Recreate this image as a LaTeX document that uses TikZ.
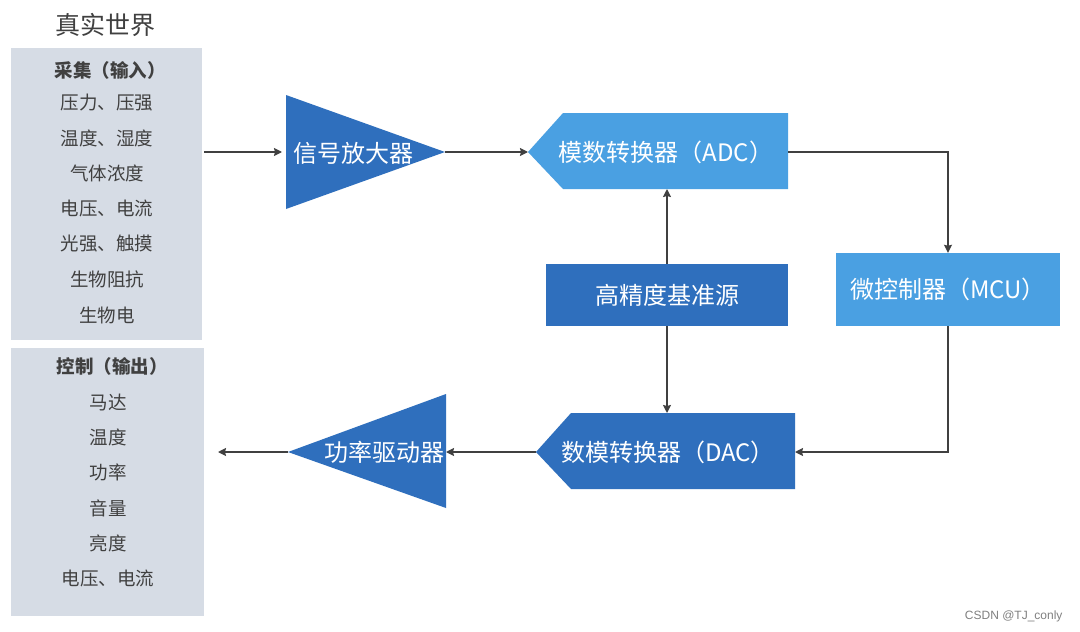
\documentclass[tikz,border=0pt]{standalone}
\usepackage{fontspec}
\setmainfont{Noto Sans CJK SC}
\newfontfamily\wmfont{Liberation Sans}
\usetikzlibrary{arrows.meta}
\definecolor{lb}{RGB}{74,160,226}
\definecolor{db}{RGB}{47,111,189}
\definecolor{pg}{RGB}{214,220,229}
\definecolor{tx}{RGB}{64,64,64}
\begin{document}
\begin{tikzpicture}[x=1pt,y=-1pt,
 arr/.style={draw=tx, line width=1.5pt, -{Stealth[length=8pt,width=8pt,inset=1pt]}},
 panel/.style={fill=pg, anchor=north west, inner sep=0pt},
 item/.style={text=tx, font=\fontsize{18.5}{20}\selectfont},
 head/.style={text=tx, font=\fontsize{18.5}{20}\selectfont\bfseries},
 wtxt/.style={text=white, font=\fontsize{24}{26}\selectfont, inner sep=0pt},
]
\useasboundingbox (0,0) rectangle (1080,632);
\fill[white] (0,0) rectangle (1080,632);

% title
\node[text=tx, font=\fontsize{25}{27}\selectfont] (title) at (106,25) {真实世界};

% panels
\node[panel, minimum width=191pt, minimum height=292pt] (inp) at (11,48) {};
\node[panel, minimum width=193pt, minimum height=268pt] (outp) at (11,348) {};

\node[head] (i0) at (110,70) {采集（输入）};
\node[item] (i1) at (107,103) {压力、压强};
\node[item] (i2) at (107,138) {温度、湿度};
\node[item] (i3) at (107,173) {气体浓度};
\node[item] (i4) at (107,208) {电压、电流};
\node[item] (i5) at (107,244) {光强、触摸};
\node[item] (i6) at (107,279) {生物阻抗};
\node[item] (i7) at (107,315) {生物电};

\node[head] (o0) at (112,366) {控制（输出）};
\node[item] (o1) at (108,402) {马达};
\node[item] (o2) at (108,437) {温度};
\node[item] (o3) at (108,472) {功率};
\node[item] (o4) at (108,508) {音量};
\node[item] (o5) at (108,543) {亮度};
\node[item] (o6) at (108,578) {电压、电流};

% amplifier
\fill[db] (286,95) -- (445,152) -- (286,209) -- cycle;
\coordinate (ampin) at (286,152);
\coordinate (ampout) at (445,152);
\node[wtxt] (amp) at (353,153) {信号放大器};

% ADC
\fill[lb] (528,152) -- (563,113) -- (788,113) -- (788,189) -- (563,189) -- cycle;
\coordinate (adcin) at (528,152);
\coordinate (adcout) at (788,152);
\coordinate (adcbot) at (667,189);
\node[wtxt] (adc) at (666,152) {模数转换器（ADC）};

% reference
\node[fill=db, minimum width=242pt, minimum height=62pt, inner sep=0pt, text=white, font=\fontsize{24}{26}\selectfont] (ref) at (667,295) {高精度基准源};

% MCU
\node[fill=lb, minimum width=224pt, minimum height=73pt, inner sep=0pt, text=white, font=\fontsize{24}{26}\selectfont] (mcu) at (948,289.5) {微控制器（MCU）};

% DAC
\fill[db] (536,452) -- (571,413) -- (795,413) -- (795,489) -- (571,489) -- cycle;
\coordinate (dacin) at (536,452);
\coordinate (dacout) at (795,452);
\coordinate (dactop) at (667,413);
\node[wtxt] (dac) at (668,452) {数模转换器（DAC）};

% power driver
\fill[db] (288,452) -- (446,394) -- (446,508) -- cycle;
\coordinate (pwrin) at (446,452);
\coordinate (pwrout) at (288,452);
\coordinate (outend) at (218,452);
\node[wtxt] (pwr) at (384,452) {功率驱动器};

% connectors
\draw[arr] ([xshift=2pt]inp.east |- ampin) -- ([xshift=-4pt]ampin);
\draw[arr] (ampout) -- (adcin);
\draw[arr] (adcout) -| (mcu.north);
\draw[arr] (ref.north) -- (adcbot);
\draw[arr] (ref.south) -- (dactop);
\draw[arr] (mcu.south) |- (dacout);
\draw[arr] (dacin) -- (pwrin);
\draw[arr] (pwrout) -- (outend);

% watermark
\node[text=black!50, font=\wmfont\fontsize{12}{14}\selectfont, anchor=east] (wm) at (1066,616) {CSDN @TJ\_conly};
\end{tikzpicture}
\end{document}
